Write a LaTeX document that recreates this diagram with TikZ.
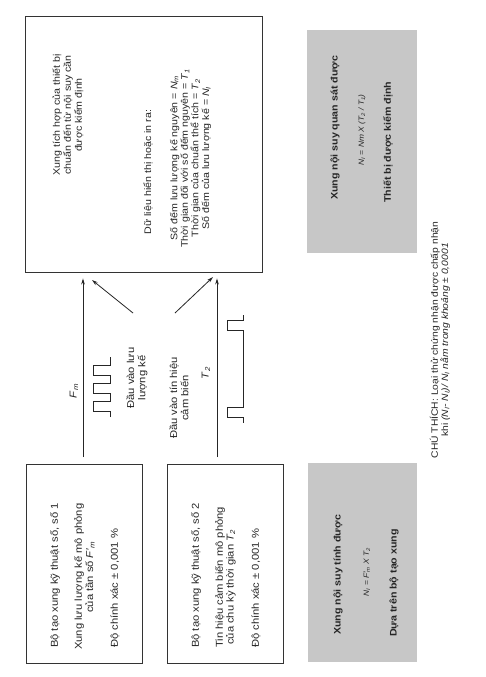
\documentclass[tikz,border=0pt]{standalone}
\usepackage{fontspec}
\setmainfont[FakeStretch=1.12]{Liberation Sans}
\usetikzlibrary{arrows.meta}
\newcommand{\vsub}[2]{\textit{#1}\textsubscript{\textit{#2}}}
\begin{document}
\begin{tikzpicture}[x=1pt,y=-1pt,
  frame/.style={draw=black!80,line width=0.9pt,inner sep=0,fill=none},
  graybox/.style={fill=black!22,draw=none,inner sep=0},
  txt/.style={font=\fontsize{10}{11.2}\selectfont,rotate=90,inner sep=0,text=black!85},
  bigtxt/.style={txt,font=\fontsize{9.5}{11}\selectfont},
  btxt/.style={txt,font=\fontsize{9.5}{11}\selectfont\bfseries},
  small/.style={txt,font=\fontsize{7.5}{9}\selectfont\itshape},
  arr/.style={draw=black!85,line width=0.8pt,-{Stealth[length=6pt,width=3.6pt]}},
  wave/.style={draw=black!85,line width=0.8pt}]
\fill[white] (0,0) rectangle (485,677);
\useasboundingbox (0,0) rectangle (485,677);

% boxes
\node[frame,minimum width=237pt,minimum height=256pt] (big) at (143.5,144) {};
\node[frame,minimum width=116pt,minimum height=199pt] (b1) at (84,563.5) {};
\node[frame,minimum width=116pt,minimum height=199pt] (b2) at (225,563.5) {};
\node[graybox,minimum width=110pt,minimum height=223pt] (g1) at (362,141.5) {};
\node[graybox,minimum width=109pt,minimum height=199pt] (g2) at (362.5,562.5) {};

% big box text
\node[bigtxt,align=center] (c1) at (68,115) {Xung tích hợp của thiết bị\\chuẩn đến từ nội suy cần\\được kiểm định};
\node[bigtxt] (c2a) at (148,172) {Dữ liệu hiển thị hoặc in ra:};
\node[bigtxt,align=center,font=\fontsize{9.5}{10.6}\selectfont] (c2b) at (190.5,158) {Số đếm lưu lượng kế nguyên = \vsub{N}{m}\\Thời gian đối với số đếm nguyên = \vsub{T}{1}\\Thời gian của chuẩn thể tích = \vsub{T}{2}\\Số đếm của lưu lượng kế = \vsub{N}{I}};

% box 1 text
\node[txt,anchor=west] (b1a) at (55,648) {Bộ tạo xung kỹ thuật số, số 1};
\node[txt,anchor=west] (b1b) at (79,650) {Xung lưu lượng kế mô phỏng};
\node[txt,anchor=west] (b1c) at (90,613) {của tần số \textit{F}′\textsubscript{\textit{m}}};
\node[txt,anchor=west] (b1d) at (115,648) {Độ chính xác ± 0,001 \%};

% box 2 text
\node[txt,anchor=west] (b2a) at (196,648) {Bộ tạo xung kỹ thuật số, số 2};
\node[txt,anchor=west] (b2b) at (220,648) {Tin hiệu cảm biến mô phỏng};
\node[txt,anchor=west] (b2c) at (231,645) {của chu kỳ thời gian \vsub{T}{2}};
\node[txt,anchor=west] (b2d) at (256,648) {Độ chính xác ± 0,001 \%};

% gray box 1 text
\node[btxt,anchor=west] (g1a) at (335,200) {Xung nội suy quan sát được};
\node[small] (g1b) at (362,130) {N\textsubscript{I} = Nm X (T\textsubscript{2} / T\textsubscript{1})};
\node[btxt,anchor=west] (g1c) at (388,203) {Thiết bị được kiểm định};

% gray box 2 text
\node[btxt,anchor=west] (g2a) at (338,635) {Xung nội suy tính được};
\node[small] (g2b) at (367,572) {N\textsubscript{I} = F′\textsubscript{m} X T\textsubscript{2}};
\node[btxt,anchor=west] (g2c) at (394,637) {Dựa trên bộ tạo xung};

% caption
\node[txt,align=center,font=\fontsize{9.2}{10.2}\selectfont] (cap) at (440,340) {CHÚ THÍCH: Loại thử chứng nhận được chấp nhận\\khi \textit{(N\textsubscript{I}- N\textsubscript{I})/ N\textsubscript{I} nằm trong khoảng ± 0,0001}};

% middle labels
\node[txt] (fm) at (74,391) {\vsub{F}{m}};
\node[txt] (t2) at (206,373) {\vsub{T}{2}};
\node[txt,align=center] (l1) at (137,378) {Đầu vào lưu\\lượng kế};
\node[txt,align=center] (l2) at (179,398) {Đầu vào tín hiệu\\cảm biến};

% connectors
\coordinate (in1) at (83,457);
\coordinate (in2) at (217,457);
\path (in1 |- big.south) ++(0,6) coordinate (t1);
\path (in2 |- big.south) ++(0,6) coordinate (t2e);
\draw[arr] (in1) -- (t1);
\draw[arr] (in2) -- (t2e);
\coordinate (d1s) at (133,313);
\coordinate (d1e) at (92,280);
\coordinate (d2s) at (175,313);
\coordinate (d2e) at (213,277);
\draw[arr] (d1s) -- (d1e);
\draw[arr] (d2s) -- (d2e);

% pulse trains
\draw[wave] (110,417) -- (110,411) -- (93,411) -- (93,401) -- (110,401) -- (110,393) -- (93,393) -- (93,383) -- (110,383) -- (110,375) -- (93,375) -- (93,365) -- (110,365) -- (110,357);
\draw[wave] (243,315) -- (243,320) -- (227,320) -- (227,330) -- (243,330) -- (243,407) -- (227,407) -- (227,417) -- (243,417) -- (243,423);
\end{tikzpicture}
\end{document}
